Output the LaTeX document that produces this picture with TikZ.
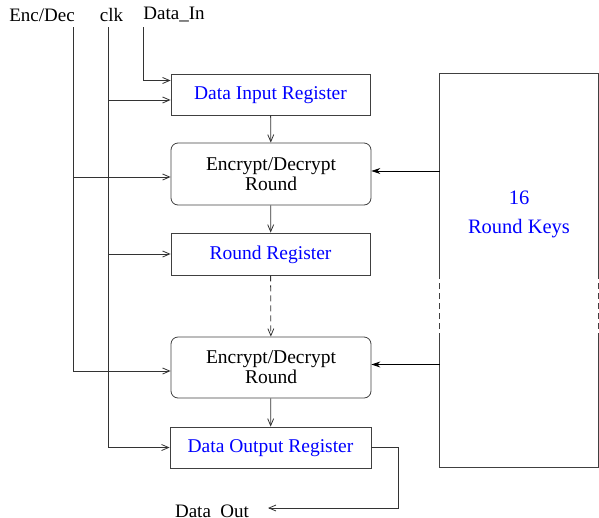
\documentclass[tikz,border=0pt]{standalone}
\usepackage{fontspec}
\setmainfont{Liberation Serif}
\usetikzlibrary{arrows.meta,calc}
\begin{document}
\begin{tikzpicture}[x=1pt,y=-1pt,
  line width=0.8pt,
  wire/.style={draw=black!80},
  feed/.style={wire,-{Straight Barb[length=7pt,width=6pt]}},
  keyfeed/.style={draw=black,-{Stealth[length=9pt,width=6pt,inset=3pt]}},
  reg/.style={draw=black!75,rectangle,minimum width=199pt,minimum height=41pt,
    text=blue,font=\fontsize{19.5}{20}\selectfont,text depth=2pt},
  roundbox/.style={draw=black!75,rectangle,rounded corners=7pt,minimum width=200pt,
    minimum height=62pt,align=center,font=\fontsize{19.5}{20}\selectfont},
  lbl/.style={font=\fontsize{19}{20}\selectfont,inner sep=0pt}]
\useasboundingbox (0,0) rectangle (599,517);

% input labels along the top
\node[lbl] (encdec) at (42,15) {Enc/Dec};
\node[lbl] (clk) at (111.5,15) {clk};
\node[lbl,anchor=west] (datain) at (143,15) {Data\_In};

% pipeline blocks
\node[reg] (din) at (270.5,94.5) {Data Input Register};
\node[roundbox] (r1) at (271,174) {Encrypt/Decrypt\\Round};
\node[reg,minimum height=42pt] (rreg) at (270.5,254) {Round Register};
\node[roundbox,minimum height=61pt] (r2) at (271,367.5) {Encrypt/Decrypt\\Round};
\node[reg,minimum width=201pt] (dout) at (270.5,447.5) {Data Output Register};

% key store, with a broken (dashed) stretch on both sides
\node[minimum width=158pt,minimum height=393pt,inner sep=0pt] (keys) at (519,270.5) {};
\node[align=center,text=blue,font=\fontsize{20.5}{29}\selectfont] (keylbl) at (519,214) {16\\Round Keys};
\draw[draw=black!75] (keys.west |- 0,273) -- (keys.north west) -- (keys.north east) -- (keys.east |- 0,273);
\draw[draw=black!75] (keys.west |- 0,337) -- (keys.south west) -- (keys.south east) -- (keys.east |- 0,337);
\draw[draw=black!75,dash pattern=on 6pt off 4pt] (keys.west |- 0,273) -- (keys.west |- 0,337);
\draw[draw=black!75,dash pattern=on 6pt off 4pt] (keys.east |- 0,273) -- (keys.east |- 0,337);

% data path
\draw[feed] (din) -- (r1);
\draw[feed] (r1) -- (rreg);
\draw[feed,dash pattern=on 6pt off 4pt] (rreg) -- (r2);
\draw[feed] (r2) -- (dout);

% round keys into the rounds
\coordinate (k1) at ($(r1.east)+(0,-3)$);
\coordinate (k2) at ($(r2.east)+(0,-3)$);
\draw[keyfeed] (k1 -| keys.west) -- (k1);
\draw[keyfeed] (k2 -| keys.west) -- (k2);

% control and clock lines
\coordinate (enctop) at (73,27);
\coordinate (clktop) at (108,27);
\coordinate (dintop) at (143,27);
\coordinate (e2) at ($(r2.west)+(0,3.5)$);
\coordinate (e1) at ($(r1.west)+(0,3)$);
\draw[feed] (enctop) |- (e2);
\draw[feed] (enctop |- e1) -- (e1);
\draw[feed] (clktop) |- (dout.west);
\draw[feed] (clktop |- 0,100) -- (din.west |- 0,100);
\draw[feed] (clktop |- rreg.west) -- (rreg.west);
\draw[feed] (dintop) |- (din.west |- 0,80.5);

% output
\node[lbl,anchor=base] (dataout) at (212,517.5) {Data\_Out};
\coordinate (outend) at (268,508);
\draw[feed] (dout.east) -- (398,447.5) |- (outend);
\end{tikzpicture}
\end{document}
